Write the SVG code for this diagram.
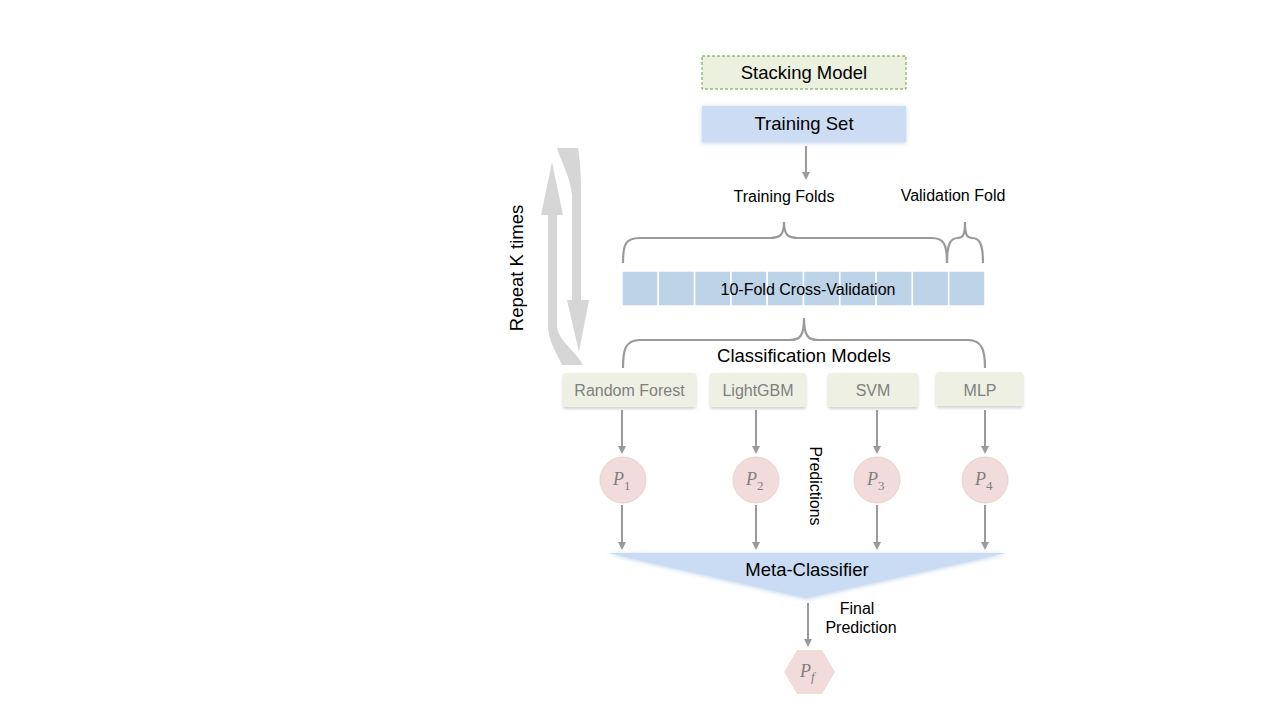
<svg xmlns="http://www.w3.org/2000/svg" width="1280" height="720" viewBox="0 0 1280 720">
<defs>
<style>
.t{font-family:"Liberation Sans",Arial,sans-serif;fill:#000}
.g{font-family:"Liberation Sans",Arial,sans-serif;fill:#808080;font-size:16px}
.p{font-family:"Liberation Serif","DejaVu Serif",serif;font-style:italic;fill:#7f7f7f;font-size:18px}
.ln{stroke:#9a9a9a;stroke-width:2;fill:none}
.br{stroke:#9a9a9a;stroke-width:2.2;fill:none}
.model{fill:#EEF0E3}
.circ{fill:#F2DCDB;stroke:#ead0cf;stroke-width:1}
.cell{fill:#BDD3E8;stroke:#fff;stroke-width:1.5}
</style>
<marker id="ah" markerWidth="8" markerHeight="8" refX="4" refY="4" orient="auto" markerUnits="userSpaceOnUse">
<path d="M0,0 L8,4 L0,8 Z" fill="#9a9a9a"/>
</marker>
<filter id="sh" x="-10%" y="-20%" width="120%" height="150%">
<feDropShadow dx="0" dy="2" stdDeviation="1.5" flood-color="#000" flood-opacity="0.18"/>
</filter>
<filter id="glow" x="-10%" y="-20%" width="120%" height="150%">
<feDropShadow dx="0" dy="1" stdDeviation="2" flood-color="#7fa6d8" flood-opacity="0.5"/>
</filter>
</defs>
<rect width="1280" height="720" fill="#fff"/>

<g id="repeat">
<path d="M557,148 L578,148 C580,160 581,175 581,192 L581,300 L589,300 L579,352 L567,300 L572,300 L572,195 C570,175 560,160 557,148 Z" fill="#D6D6D6"/>
<path d="M552,162 L563,215 L557,215 L557,325 C557,340 575,350 583,365 L562,365 C555,350 548,340 548,325 L548,215 L541,215 Z" fill="#D6D6D6"/>
<text class="t" font-size="18.5" text-anchor="middle" transform="translate(523,268) rotate(-90)">Repeat K times</text>
</g>

<g id="stacking">
<rect x="702" y="56" width="204" height="33" fill="#EBF1DE" stroke="#6B9A3F" stroke-width="1" stroke-dasharray="3,2"/>
<text class="t" x="804" y="79" font-size="18.5" text-anchor="middle">Stacking Model</text>
</g>

<g id="training">
<rect x="702" y="106" width="204" height="36" fill="#CCDDF3" filter="url(#glow)"/>
<text class="t" x="804" y="130" font-size="18.5" text-anchor="middle">Training Set</text>
</g>

<g id="labels">
<text class="t" x="784" y="202" font-size="16" text-anchor="middle">Training Folds</text>
<text class="t" x="953" y="201" font-size="16" text-anchor="middle">Validation Fold</text>
</g>

<g id="folds">
<rect class="cell" x="622" y="271" width="36.3" height="35"/>
<rect class="cell" x="658.3" y="271" width="36.3" height="35"/>
<rect class="cell" x="694.6" y="271" width="36.3" height="35"/>
<rect class="cell" x="730.9" y="271" width="36.3" height="35"/>
<rect class="cell" x="767.2" y="271" width="36.3" height="35"/>
<rect class="cell" x="803.5" y="271" width="36.3" height="35"/>
<rect class="cell" x="839.8" y="271" width="36.3" height="35"/>
<rect class="cell" x="876.1" y="271" width="36.3" height="35"/>
<rect class="cell" x="912.4" y="271" width="36.3" height="35"/>
<rect class="cell" x="948.7" y="271" width="36.3" height="35"/>
<text class="t" x="808" y="295" font-size="16" text-anchor="middle" fill="#222">10-Fold Cross-Validation</text>
</g>

<g id="braces">
<path class="br" d="M623,263 C623,245 625,238 640,238 L770,238 C780,238 784,235 784,222 C784,235 788,238 798,238 L932,238 C944,238 947,245 947,263"/>
<path class="br" d="M947,263 C947,245 950,238 958,238 C963,238 965,235 965,222 C965,235 967,238 972,238 C980,238 983,245 983,263"/>
<path class="br" d="M623,368 C623,350 625,340 640,340 L790,340 C800,340 804,336 804,318 C804,336 808,340 818,340 L968,340 C982,340 985,350 985,368"/>
</g>

<text id="cm" class="t" x="804" y="362" font-size="18.5" text-anchor="middle">Classification Models</text>

<g id="rf"><rect class="model" x="563" y="373" width="133" height="34" rx="3" filter="url(#sh)"/><text class="g" x="629.5" y="396" text-anchor="middle">Random Forest</text></g>
<g id="lgbm"><rect class="model" x="710" y="373" width="96" height="34" rx="3" filter="url(#sh)"/><text class="g" x="758" y="396" text-anchor="middle">LightGBM</text></g>
<g id="svm"><rect class="model" x="828" y="373" width="90" height="34" rx="3" filter="url(#sh)"/><text class="g" x="873" y="396" text-anchor="middle">SVM</text></g>
<g id="mlp"><rect class="model" x="936" y="372" width="87" height="34" rx="3" filter="url(#sh)"/><text class="g" x="980" y="396" text-anchor="middle">MLP</text></g>

<g id="p1"><circle class="circ" cx="623" cy="480" r="23"/><text class="p" x="613" y="485">P<tspan font-size="13" font-style="normal" dy="5">1</tspan></text></g>
<g id="p2"><circle class="circ" cx="756" cy="480" r="23"/><text class="p" x="746" y="485">P<tspan font-size="13" font-style="normal" dy="5">2</tspan></text></g>
<g id="p3"><circle class="circ" cx="877" cy="480" r="23"/><text class="p" x="867" y="485">P<tspan font-size="13" font-style="normal" dy="5">3</tspan></text></g>
<g id="p4"><circle class="circ" cx="985" cy="480" r="23"/><text class="p" x="975" y="485">P<tspan font-size="13" font-style="normal" dy="5">4</tspan></text></g>

<text id="pred" class="t" font-size="16" text-anchor="middle" transform="translate(810,486) rotate(90)">Predictions</text>

<g id="meta">
<polygon points="608,553 1006,553 806,598" fill="#C9DCF3" filter="url(#glow)"/>
<text class="t" x="807" y="576" font-size="18.5" text-anchor="middle">Meta-Classifier</text>
</g>

<text class="t" x="857" y="614" font-size="16" text-anchor="middle">Final</text>
<text class="t" x="861" y="633" font-size="16" text-anchor="middle">Prediction</text>

<g id="pf">
<polygon points="784,672 797,650 822,650 835,672 822,694 797,694" fill="#F2DCDB"/>
<text class="p" x="800" y="677">P<tspan font-size="13" dy="4">f</tspan></text>
</g>

<g id="connectors">
<line class="ln" x1="806" y1="146" x2="806" y2="176" marker-end="url(#ah)"/>
<line class="ln" x1="622" y1="410" x2="622" y2="450" marker-end="url(#ah)"/>
<line class="ln" x1="756" y1="410" x2="756" y2="450" marker-end="url(#ah)"/>
<line class="ln" x1="877" y1="410" x2="877" y2="450" marker-end="url(#ah)"/>
<line class="ln" x1="985" y1="410" x2="985" y2="450" marker-end="url(#ah)"/>
<line class="ln" x1="622" y1="505" x2="622" y2="546" marker-end="url(#ah)"/>
<line class="ln" x1="756" y1="505" x2="756" y2="546" marker-end="url(#ah)"/>
<line class="ln" x1="877" y1="505" x2="877" y2="546" marker-end="url(#ah)"/>
<line class="ln" x1="985" y1="505" x2="985" y2="546" marker-end="url(#ah)"/>
<line class="ln" x1="808" y1="603" x2="808" y2="643" marker-end="url(#ah)"/>
</g>
</svg>
